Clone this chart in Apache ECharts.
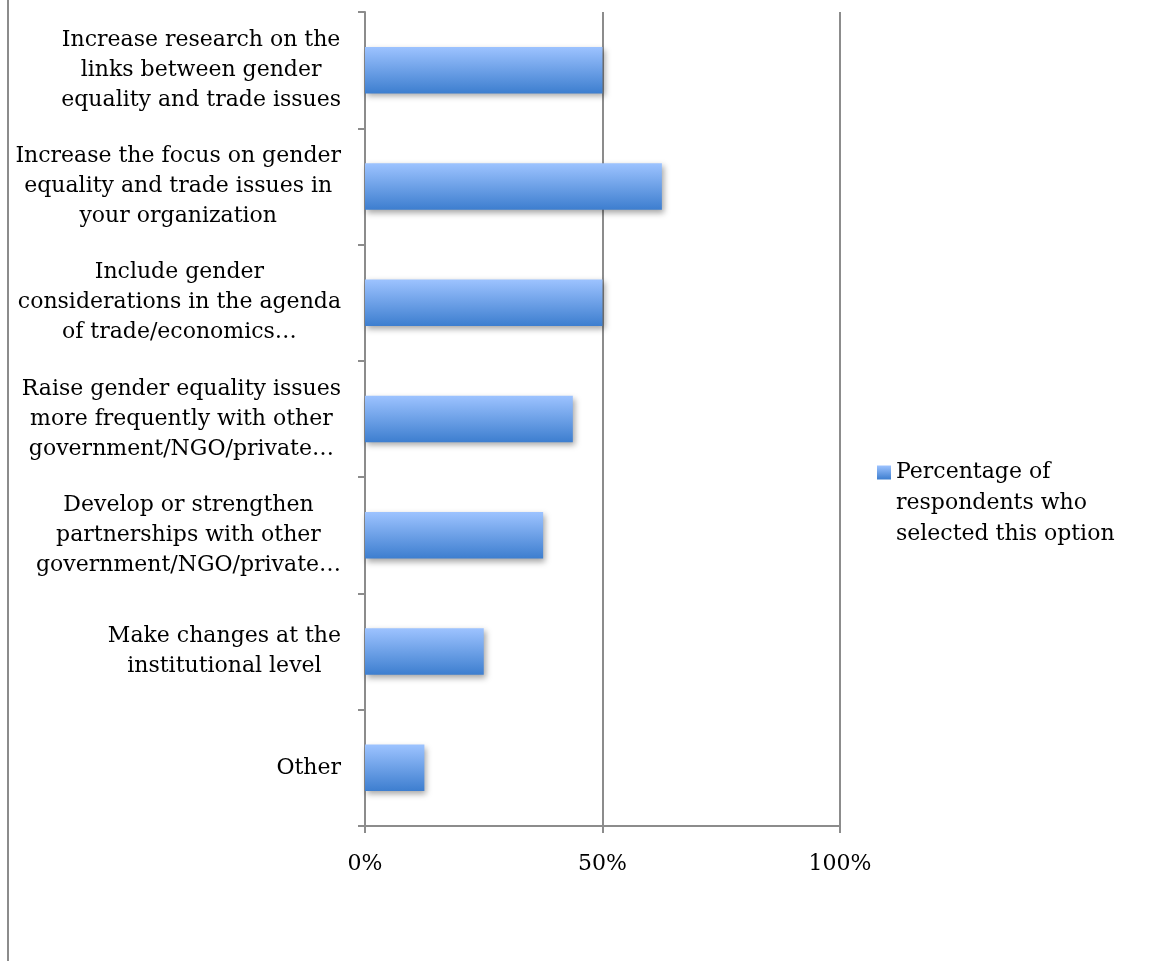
<!DOCTYPE html>
<html>
<head>
<meta charset="utf-8">
<script src="https://cdn.jsdelivr.net/npm/echarts@6/dist/echarts.min.js"></script>
<style>html,body{margin:0;padding:0;background:#fff}#c{width:1150px;height:961px}</style>
</head>
<body>
<div id="c"></div>
<script>
const categories = [
  "Increase research on the\nlinks between gender\nequality and trade issues",
  "Increase the focus on gender\nequality and trade issues in\nyour organization",
  "Include gender\nconsiderations in the agenda\nof trade/economics…",
  "Raise gender equality issues\nmore frequently with other\ngovernment/NGO/private…",
  "Develop or strengthen\npartnerships with other\ngovernment/NGO/private…",
  "Make changes at the\ninstitutional level",
  "Other"
];
const values = [50, 62.5, 50, 43.75, 37.5, 25, 12.5];
const seriesName = "Percentage of\nrespondents who\nselected this option";
const xTicks = [0, 50, 100];

const FONT = "DejaVu Serif";
const FS = 22;
const chart = echarts.init(document.getElementById('c'));
const grey = '#8c8c8c';
chart.setOption({
  animation: false,
  textStyle: {fontFamily: FONT},
  grid: {left: 365, right: 310, top: 12, bottom: 135},
  legend: {
    left: 872, top: 390, orient: 'vertical', icon: 'rect',
    itemWidth: 14, itemHeight: 14, itemGap: 6,
    formatter: n => '\n\n' + n,
    textStyle: {fontFamily: FONT, fontSize: FS, color: '#000', lineHeight: 31},
    data: [seriesName]
  },
  xAxis: {
    type: 'value', min: 0, max: 100, interval: 50,
    axisLine: {show: true, lineStyle: {color: grey, width: 2}},
    axisTick: {show: true, length: 7, lineStyle: {color: grey, width: 2}},
    splitLine: {show: true, lineStyle: {color: grey, width: 2}},
    axisLabel: {margin: 27, fontFamily: FONT, fontSize: FS, color: '#000',
      formatter: v => xTicks.includes(v) ? v + '%' : ''}
  },
  yAxis: {
    type: 'category', inverse: true, data: categories,
    axisLine: {show: true, lineStyle: {color: grey, width: 2}},
    axisTick: {show: true, length: 7, lineStyle: {color: grey, width: 2}},
    axisLabel: {
      margin: 24, fontFamily: FONT, fontSize: FS, color: '#000', lineHeight: 30,
      formatter: v => v.split('\n').map(s => '{c|' + s + '}').join('\n'),
      rich: {c: {align: 'center', fontFamily: FONT, fontSize: FS, lineHeight: 30, color: '#000'}}
    }
  },
  series: [{
    name: seriesName, type: 'bar', data: values, barWidth: '40%',
    itemStyle: {
      color: new echarts.graphic.LinearGradient(0, 0, 0, 1, [
        {offset: 0, color: '#9dc3ff'}, {offset: 1, color: '#3d7ecf'}
      ]),
      shadowColor: 'rgba(0,0,0,0.35)', shadowBlur: 6, shadowOffsetX: 2, shadowOffsetY: 3
    }
  }],
  graphic: [{type: 'line', shape: {x1: 8, y1: 0, x2: 8, y2: 961}, style: {stroke: grey, lineWidth: 2}}]
});
</script>
</body>
</html>
